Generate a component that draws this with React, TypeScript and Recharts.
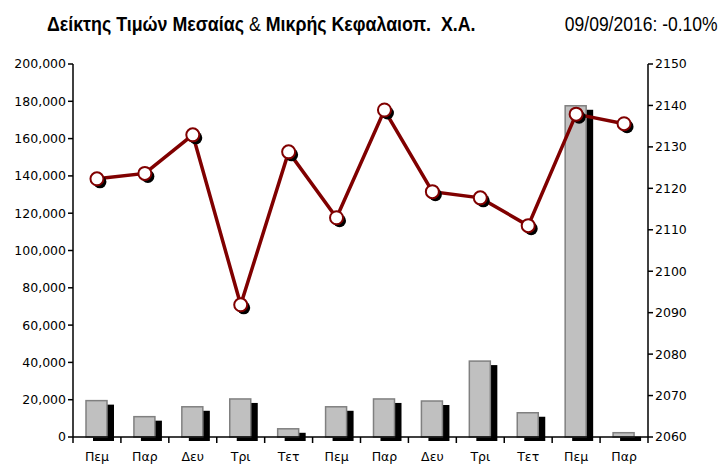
import React from 'react';
import { ComposedChart, Bar, Line, XAxis, YAxis } from 'recharts';

// daily session labels
const days = ['Πεμ', 'Παρ', 'Δευ', 'Τρι', 'Τετ', 'Πεμ', 'Παρ', 'Δευ', 'Τρι', 'Τετ', 'Πεμ', 'Παρ'];
// traded volume (left axis)
const volume = [19500, 10900, 16200, 20400, 4400, 16200, 20400, 19300, 40700, 13000, 177600, 2300];
// index close (right axis)
const close = [2122.3, 2123.6, 2132.9, 2091.9, 2128.8, 2112.9, 2138.9, 2119.2, 2117.7, 2111.0, 2137.9, 2135.6];

const volTicks = [0, 20000, 40000, 60000, 80000, 100000, 120000, 140000, 160000, 180000, 200000];
const idxTicks = [2060, 2070, 2080, 2090, 2100, 2110, 2120, 2130, 2140, 2150];

const data = days.map((d, i) => ({ day: d, volume: volume[i], close: close[i] }));

const FONT = '"DejaVu Sans", Verdana, sans-serif';
const TITLE = '"Liberation Sans", Arial, sans-serif';

// bar with the black drop shadow behind it
const ShadowBar = (props: any) => {
  const { x, y, width, height } = props;
  if (height == null || height <= 0) return null;
  return (
    <g>
      <rect x={x + 7} y={y + 4} width={width} height={height} fill="#000" />
      <rect x={x} y={y} width={width} height={height} fill="#c0c0c0" stroke="#808080" strokeWidth={1.5} />
    </g>
  );
};

const ShadowDot = (props: any) => {
  const { cx, cy, index } = props;
  return (
    <g key={index}>
      <circle cx={cx + 3} cy={cy + 3} r={6.5} fill="#000" />
      <circle cx={cx} cy={cy} r={6.5} fill="#fff" stroke="#800000" strokeWidth={2} />
    </g>
  );
};

// category label with tick mark on the left band edge
const DayTick = (props: any) => {
  const { x, y, payload, index } = props;
  const half = 575 / 12 / 2;
  return (
    <g>
      <line x1={x - half} x2={x - half} y1={y - 8} y2={y - 2} stroke="#000" strokeWidth={1.5} />
      {index === days.length - 1 && (
        <line x1={x + half} x2={x + half} y1={y - 8} y2={y - 2} stroke="#000" strokeWidth={1.5} />
      )}
      <text x={x} y={y + 16} textAnchor="middle" fontSize={12.5} fontFamily={FONT} fill="#000">
        {payload.value}
      </text>
    </g>
  );
};

export default function App() {
  return (
    <div style={{ position: 'absolute', left: 0, top: 0, width: 720, height: 467, background: '#fff' }}>
      <div style={{ position: 'absolute', left: 47, top: 13, fontFamily: TITLE, fontSize: 20, fontWeight: 'bold', whiteSpace: 'pre', color: '#000', transform: 'scaleX(0.89)', transformOrigin: 'left top' }}>
        Δείκτης Τιμών Μεσαίας <span style={{ fontWeight: 'normal' }}>&amp;</span> Μικρής Κεφαλαιοπ.  Χ.Α.
      </div>
      <div style={{ position: 'absolute', right: 2, top: 13, fontFamily: TITLE, fontSize: 20, whiteSpace: 'pre', color: '#000', transform: 'scaleX(0.875)', transformOrigin: 'right top' }}>
        09/09/2016: -0.10%
      </div>
      <ComposedChart width={720} height={467} data={data} margin={{ top: 64, right: 0, bottom: 0, left: 0 }}>
        <XAxis
          dataKey="day"
          height={30}
          tickLine={false}
          axisLine={{ stroke: '#000', strokeWidth: 1.5 }}
          tick={<DayTick />}
          interval={0}
        />
        <YAxis
          yAxisId="vol"
          orientation="left"
          width={73}
          domain={[0, 200000]}
          ticks={volTicks}
          interval={0}
          tickFormatter={(v: number) => v.toLocaleString('en-US')}
          axisLine={{ stroke: '#000', strokeWidth: 1.5 }}
          tickLine={{ stroke: '#000', strokeWidth: 1.5 }}
          tickSize={5}
          tick={{ fontSize: 12.5, fontFamily: FONT, fill: '#000' }}
        />
        <YAxis
          yAxisId="idx"
          orientation="right"
          width={72}
          domain={[2060, 2150]}
          ticks={idxTicks}
          interval={0}
          axisLine={{ stroke: '#000', strokeWidth: 1.5 }}
          tickLine={{ stroke: '#000', strokeWidth: 1.5 }}
          tickSize={5}
          tick={{ fontSize: 12.5, fontFamily: FONT, fill: '#000' }}
        />
        <Bar yAxisId="vol" dataKey="volume" barSize={21} shape={<ShadowBar />} isAnimationActive={false} />
        <Line
          yAxisId="idx"
          dataKey="close"
          stroke="#800000"
          strokeWidth={3.5}
          dot={<ShadowDot />}
          activeDot={false}
          isAnimationActive={false}
        />
      </ComposedChart>
    </div>
  );
}
